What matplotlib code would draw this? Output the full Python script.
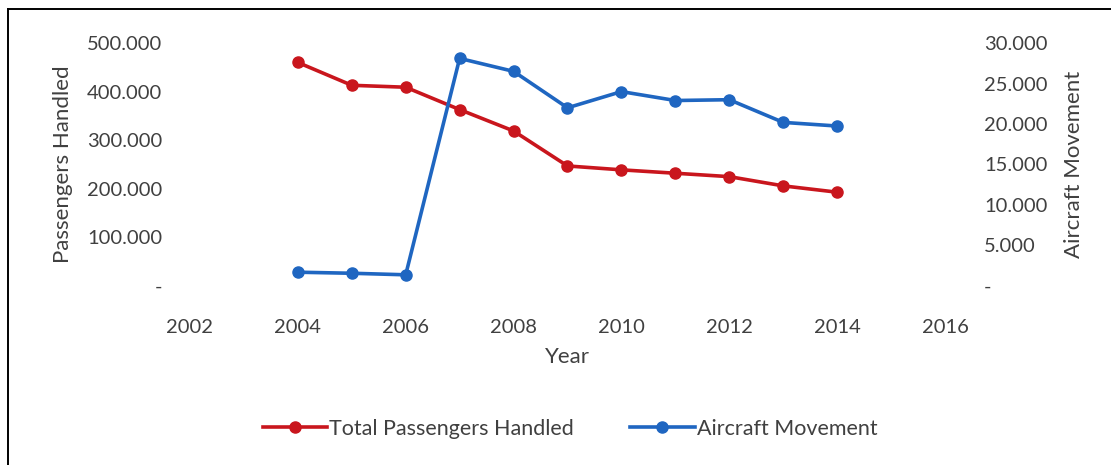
import matplotlib
matplotlib.use("Agg")
import matplotlib.pyplot as plt
from matplotlib.ticker import FuncFormatter
from matplotlib.lines import Line2D

plt.rcParams["font.family"] = ["Lato", "DejaVu Sans"]

years = [2004, 2005, 2006, 2007, 2008, 2009, 2010, 2011, 2012, 2013, 2014]
passengers = [460000, 413000, 409000, 363000, 319000, 247000, 239000, 232000, 225000, 206000, 193000]
aircraft = [1700, 1570, 1380, 28100, 26500, 22000, 24000, 22900, 23000, 20200, 19750]

RED = "#C9161D"
BLUE = "#1F66C1"
TXT = "#404040"


def dot_fmt(v, pos):
    if abs(v) < 1e-9:
        return "-"
    return f"{int(round(v)):,}".replace(",", ".")


fig = plt.figure(figsize=(11.11, 4.65), dpi=100)
ax = fig.add_axes([0.171, 0.385, 0.6796, 0.5225])
ax2 = ax.twinx()

l1, = ax.plot(years, passengers, "-o", color=RED, linewidth=2.6, markersize=8,
              label="Total Passengers Handled", zorder=3)
l2, = ax2.plot(years, aircraft, "-o", color=BLUE, linewidth=2.6, markersize=8,
               label="Aircraft Movement", zorder=3)

ax.set_xlim(2002, 2016)
ax.set_xticks(range(2002, 2017, 2))
ax.set_ylim(0, 500000)
ax.set_yticks(range(0, 500001, 100000))
ax2.set_ylim(0, 30000)
ax2.set_yticks(range(0, 30001, 5000))
ax.yaxis.set_major_formatter(FuncFormatter(dot_fmt))
ax2.yaxis.set_major_formatter(FuncFormatter(dot_fmt))

for a in (ax, ax2):
    for s in a.spines.values():
        s.set_visible(False)
    a.tick_params(length=0, labelsize=14.5, labelcolor=TXT)
ax.tick_params(axis="x", pad=24)
ax.tick_params(axis="y", pad=20)
ax2.tick_params(axis="y", pad=28)

ax.set_xlabel("Year", fontsize=16, color=TXT, labelpad=8)
ax.set_ylabel("Passengers Handled", fontsize=16, color=TXT, labelpad=10)
ax2.set_ylabel("Aircraft Movement", fontsize=16, color=TXT, labelpad=12)

fig.legend(handles=[l1, l2], loc="center", bbox_to_anchor=(0.513, 0.078), ncol=2,
           frameon=False, fontsize=15.5, handlelength=3.0, handletextpad=0.1,
           columnspacing=2.6, labelcolor=TXT)

# frame: only top and left edges fall inside the picture
x0, y0 = 7.5 / 1111, 1 - 9 / 465
fig.add_artist(Line2D([x0, 1.0], [y0, y0], transform=fig.transFigure, color="black", linewidth=1.4))
fig.add_artist(Line2D([x0, x0], [0.0, y0], transform=fig.transFigure, color="black", linewidth=1.4))

fig.savefig("out.png", dpi=100)
plt.close(fig)
